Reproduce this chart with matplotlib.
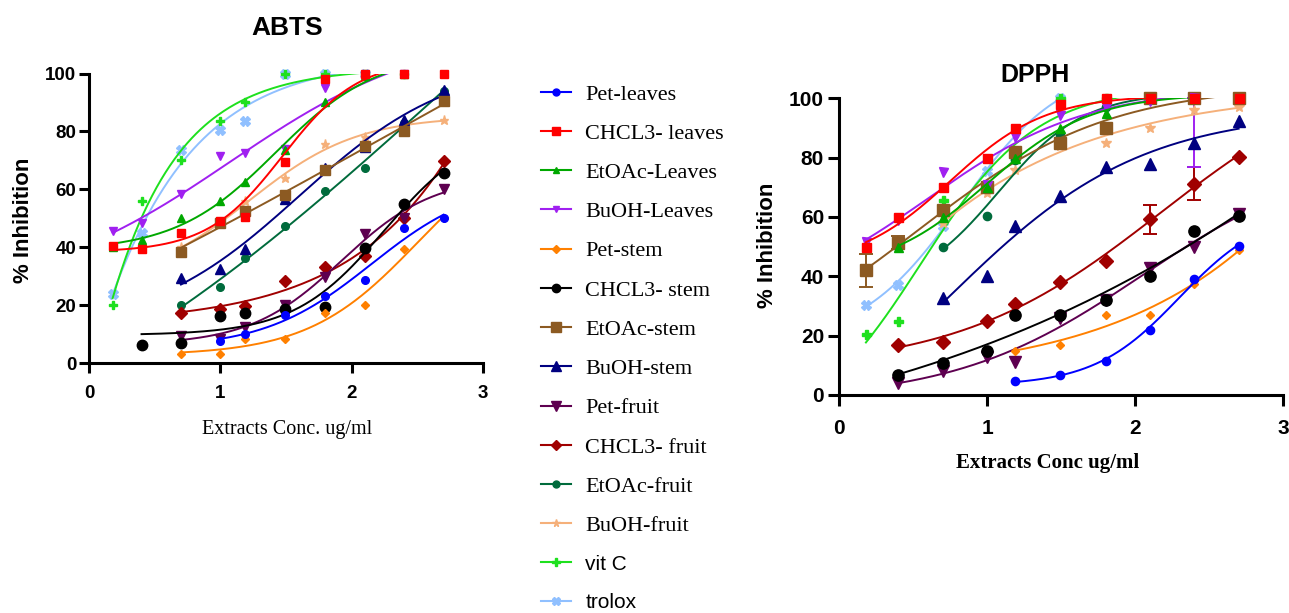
import numpy as np
import matplotlib
matplotlib.use("Agg")
import matplotlib.pyplot as plt
from matplotlib.lines import Line2D

# ---------------- data ----------------
labels = ["Pet-leaves", "CHCL3- leaves", "EtOAc-Leaves", "BuOH-Leaves", "Pet-stem",
          "CHCL3- stem", "EtOAc-stem", "BuOH-stem", "Pet-fruit", "CHCL3- fruit",
          "EtOAc-fruit", "BuOH-fruit", "vit C", "trolox"]

log_conc = [0.18, 0.4, 0.7, 1.0, 1.19, 1.49, 1.8, 2.1, 2.4, 2.7]

# ABTS (% inhibition, None = not measured)
abts_pet_leaves   = [None, None, None, 7.5, 10, 16.5, 23, 28.5, 46.5, 50]
abts_chcl3_leaves = [40.5, 39.5, 45, 49, 50.5, 69.5, 98, 100, 100, 100]
abts_etoac_leaves = [40, 42.5, 50, 56, 62.5, 73.5, 90, 99, 100, None]
abts_buoh_leaves  = [45.5, 48.5, 58.5, 71.5, 72.5, 74, 95, 99, 100, None]
abts_pet_stem     = [None, None, 3.2, 3.2, 8.2, 8.2, 17.3, 20.2, 39.5, 50]
abts_chcl3_stem   = [None, 6.3, 7, 16.3, 17.1, 18.5, 19.3, 39.7, 55, 65.8]
abts_etoac_stem   = [None, None, 38.5, 48.5, 52.5, 58, 66.5, 75, 80, 90.5]
abts_buoh_stem    = [None, None, 29.3, 32.5, 39.5, 56.5, 67.5, 74.5, 84, 94.2]
abts_pet_fruit    = [None, None, 9.3, 8.4, 12.4, 19.9, 29.7, 44.7, 50, 60]
abts_chcl3_fruit  = [None, None, 17.3, 18.8, 19.7, 28.3, 33.2, 37, 50, 69.8]
abts_etoac_fruit  = [None, None, 20.2, 26.3, 36.3, 47.4, 59.3, 67.3, 83, 94]
abts_buoh_fruit   = [None, None, 40, 48, 56, 64, 75.5, 78, 82, 84]
abts_vitc         = [20.2, 56, 70, 83.5, 90, 100, 100, 100, 100, None]
abts_trolox       = [24, 45, 73.5, 80.5, 83.5, 100, 100, 100, None, None]

# DPPH
dpph_pet_leaves   = [None, None, None, None, 4.8, 6.8, 11.6, 22, 39.2, 50.2]
dpph_chcl3_leaves = [50, 60, 70, 80, 90, 98, 100, 100, 100, 100]
dpph_etoac_leaves = [None, 50, 60, 70, 80, 90, 95, 100, 100, None]
dpph_buoh_leaves  = [51.7, 59, 75.3, 70.8, 87, 94.5, 97, 99, 100, None]
dpph_pet_stem     = [None, None, None, None, 14.8, 16.9, 27, 27, 37.3, 49]
dpph_chcl3_stem   = [None, 6.8, 10.8, 14.8, 27, 27, 32, 40.2, 55.2, 60.2]
dpph_etoac_stem   = [42, 51.2, 62.2, 70, 82, 85, 90, 100, 100, 100]
dpph_buoh_stem    = [None, None, 32.6, 40.2, 57, 67, 77, 78, 85, 92.2]
dpph_pet_fruit    = [None, 4, 8, 12.8, 11.2, 25.8, 32, 42.8, 50, 61]
dpph_chcl3_fruit  = [None, 16.8, 17.8, 24.8, 30.8, 38, 45, 59.2, 71.2, 80.2]
dpph_etoac_fruit  = [None, None, 50, 60.2, 79.2, 87.6, 97.2, 100, None, None]
dpph_buoh_fruit   = [None, None, 58, 68, 76, 84, 85, 90, 96, 97]
dpph_vitc         = [20.5, 25, 65.7, 70, 80, 100, 100, 100, None, None]
dpph_trolox       = [30.5, 37.2, 57, 75.5, None, 100, None, None, None, None]

# error bars on DPPH (series label, x index, lower err, upper err)
dpph_err_series = ["EtOAc-stem", "EtOAc-stem", "CHCL3- fruit", "CHCL3- fruit", "BuOH-Leaves"]
dpph_err_index  = [0, 1, 7, 8, 8]
dpph_err_lower  = [5.5, 2.0, 5.0, 5.5, 23.0]
dpph_err_upper  = [5.5, 2.5, 5.0, 5.5, 0.0]

abts = [abts_pet_leaves, abts_chcl3_leaves, abts_etoac_leaves, abts_buoh_leaves,
        abts_pet_stem, abts_chcl3_stem, abts_etoac_stem, abts_buoh_stem,
        abts_pet_fruit, abts_chcl3_fruit, abts_etoac_fruit, abts_buoh_fruit,
        abts_vitc, abts_trolox]
dpph = [dpph_pet_leaves, dpph_chcl3_leaves, dpph_etoac_leaves, dpph_buoh_leaves,
        dpph_pet_stem, dpph_chcl3_stem, dpph_etoac_stem, dpph_buoh_stem,
        dpph_pet_fruit, dpph_chcl3_fruit, dpph_etoac_fruit, dpph_buoh_fruit,
        dpph_vitc, dpph_trolox]

# ---------------- styles ----------------
colors = ["#0000ff", "#ff0000", "#00a800", "#a020f0", "#ff8000", "#000000",
          "#8c5a22", "#000080", "#5e0050", "#a00000", "#006b3c", "#f5b07a",
          "#1ee01e", "#90c0ff"]
markers = ["o", "s", "^", "v", "D", "o", "s", "^", "v", "D", "o", "*", "P", "X"]
msizes = [5.5, 6, 6, 6, 4.2, 7.5, 7.5, 7.5, 7.5, 6.2, 5.5, 6.5, 6, 6.5]
leg_msizes = [5, 5.5, 5, 5, 4, 6, 7, 7, 7, 5.5, 5, 5.5, 5.5, 5.5]

SANS = "Liberation Sans"
SERIF = "Liberation Serif"


def fit4pl(x, y):
    """Least-squares 4-parameter logistic (variable slope) via grid + linear solve."""
    cs = np.linspace(-1.5, 5.0, 261)
    hs = np.linspace(0.15, 1.5, 136)
    C, H = np.meshgrid(cs, hs, indexing="ij")
    S = 1.0 / (1.0 + 10.0 ** ((C[..., None] - x) * H[..., None]))
    sm = S.mean(-1)
    ym = y.mean()
    dev = S - sm[..., None]
    sxx = (dev ** 2).sum(-1)
    sxy = (dev * (y - ym)).sum(-1)
    with np.errstate(divide="ignore", invalid="ignore"):
        d = np.where(sxx > 1e-10, sxy / sxx, np.nan)
    b = ym - d * sm
    resid = ((b[..., None] + d[..., None] * S - y) ** 2).sum(-1)
    idx = np.unravel_index(np.nanargmin(resid), resid.shape)
    return b[idx], d[idx], C[idx], H[idx]


def draw(ax, series, scale=1.0, lw=1.4):
    xs_all = np.array(log_conc)
    n = len(series)
    for i, vals in enumerate(series):
        mask = np.array([v is not None for v in vals])
        x = xs_all[mask]
        y = np.array([v for v in vals if v is not None], dtype=float)
        b, d, c, h = fit4pl(x, y)
        xx = np.linspace(x.min(), x.max(), 200)
        yy = b + d / (1.0 + 10.0 ** ((c - xx) * h))
        z = 10 + (n - i) * 2
        ax.plot(xx, yy, color=colors[i], lw=lw, zorder=z)
        ax.plot(x, y, linestyle="none", marker=markers[i], ms=msizes[i] * scale,
                color=colors[i], mec=colors[i], clip_on=False, zorder=z + 1)


def style_axes(ax, tick_fs, tick_len, pad_x, pad_y):
    for s in ["top", "right"]:
        ax.spines[s].set_visible(False)
    for s in ["left", "bottom"]:
        ax.spines[s].set_linewidth(2.2)
    ax.set_xlim(0, 3)
    ax.set_ylim(0, 100)
    ax.set_xticks([0, 1, 2, 3])
    ax.set_yticks([0, 20, 40, 60, 80, 100])
    ax.tick_params(axis="both", direction="out", length=tick_len, width=2.2)
    ax.tick_params(axis="x", pad=pad_x)
    ax.tick_params(axis="y", pad=pad_y)
    for lab in ax.get_xticklabels() + ax.get_yticklabels():
        lab.set_fontfamily(SANS)
        lab.set_fontweight("bold")
        lab.set_fontsize(tick_fs)


fig = plt.figure(figsize=(12.89, 6.13), dpi=100)

# ABTS
ax1 = fig.add_axes([89 / 1289, 1 - 363 / 613, 394 / 1289, 289.5 / 613])
draw(ax1, abts)
style_axes(ax1, 13.5, 7, 9, 2)
ax1.set_ylabel("% Inhibition", fontfamily=SANS, fontweight="bold", fontsize=16,
               va="center")
ax1.yaxis.set_label_coords(-0.165, 0.494)
ax1.set_xlabel("Extracts Conc. ug/ml", fontfamily=SERIF, fontsize=14.5, va="center")
ax1.xaxis.set_label_coords(0.503, -0.228)
fig.text(287 / 1289, 1 - 28 / 613, "ABTS", ha="center", va="center",
         fontfamily=SANS, fontweight="bold", fontsize=19)

# DPPH
ax2 = fig.add_axes([839.3 / 1289, 1 - 395 / 613, 443.7 / 1289, 296.7 / 613])
draw(ax2, dpph, scale=1.08)
style_axes(ax2, 15, 8, 9, 3)
ax2.set_ylabel("% Inhibition", fontfamily=SANS, fontweight="bold", fontsize=16,
               va="center")
ax2.yaxis.set_label_coords(-0.161, 0.506)
ax2.set_xlabel("Extracts Conc ug/ml", fontfamily=SERIF, fontweight="bold", fontsize=15,
               va="center")
ax2.xaxis.set_label_coords(0.469, -0.229)
fig.text(1035 / 1289, 1 - 75 / 613, "DPPH", ha="center", va="center",
         fontfamily=SANS, fontweight="bold", fontsize=18)

# error bars
xs_all = np.array(log_conc)
for lab, ix, lo, up in zip(dpph_err_series, dpph_err_index, dpph_err_lower, dpph_err_upper):
    k = labels.index(lab)
    yv = dpph[k][ix]
    ax2.errorbar([xs_all[ix]], [yv], yerr=[[lo], [up]], fmt="none",
                 ecolor=colors[k], elinewidth=1.4, capsize=5, capthick=1.4,
                 clip_on=False, zorder=9)

# legend
handles = [Line2D([0], [0], color=colors[i], lw=1.5, marker=markers[i],
                  ms=leg_msizes[i], mec=colors[i]) for i in range(len(labels))]
leg = fig.legend(handles, labels, loc="upper left",
                 bbox_to_anchor=(541 / 1289, 1 - 84 / 613), frameon=False,
                 prop={"family": SERIF, "size": 16}, handlelength=1.35,
                 handletextpad=0.65, labelspacing=0.84, borderpad=0,
                 borderaxespad=0)
for t in leg.get_texts()[12:]:
    t.set_fontfamily(SANS)
    t.set_fontsize(15)

fig.savefig("out.png", dpi=100)
